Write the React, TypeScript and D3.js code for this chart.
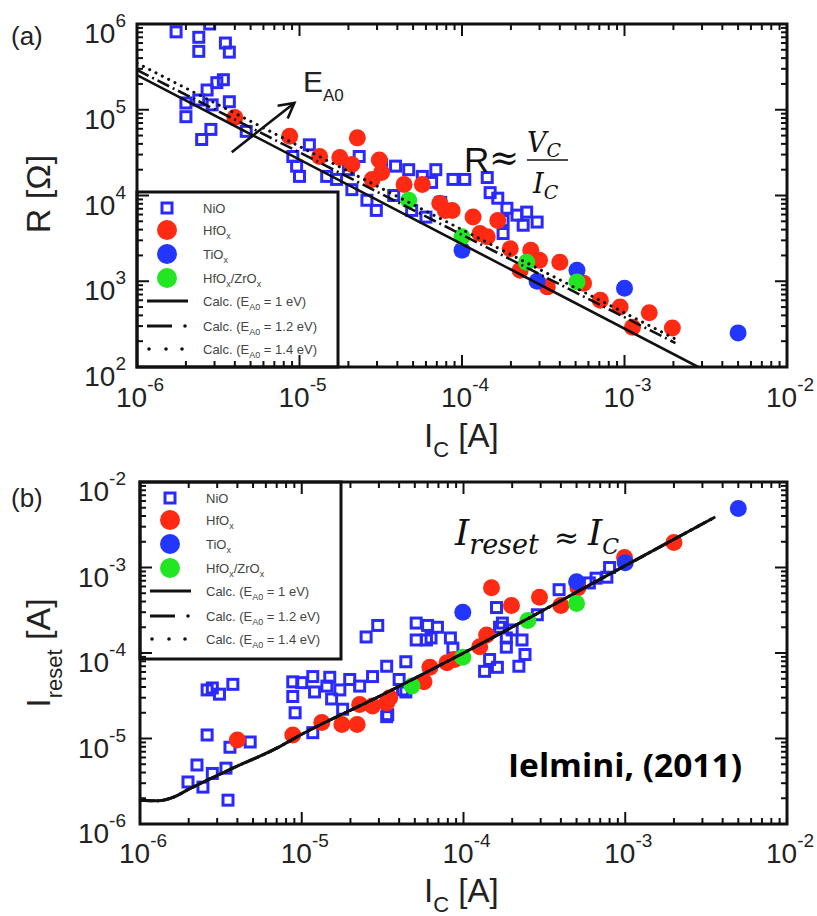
import React from "react";
import * as d3 from "d3";

type P = [number, number];

// ---------- Panel (a): R [Ohm] vs I_C [A] ----------
const nioA: P[] = [
  [1.74e-6, 8.1e5], [2.4e-6, 7.0e5], [2.4e-6, 4.8e5], [2.8e-6, 1.0e6], [3.5e-6, 6.0e5], [3.7e-6, 4.7e5],
  [2.0e-6, 8.3e4], [2.5e-6, 4.5e4], [2.85e-6, 5.9e4], [2.7e-6, 1.7e5], [3.1e-6, 2.07e5], [3.4e-6, 2.24e5],
  [2.4e-6, 1.3e5], [3.7e-6, 1.24e5], [4.7e-6, 5.6e4], [2.9e-6, 1.14e5], [2.0e-6, 1.2e5],
  [9.1e-6, 2.85e4], [9.6e-6, 2.2e4], [1.0e-5, 1.67e4], [1.15e-5, 3.9e4], [1.47e-5, 1.67e4], [1.69e-5, 1.54e4],
  [2.1e-5, 1.17e4], [2.6e-5, 8.8e3], [2.97e-5, 6.7e3], [2.33e-5, 2.85e4], [3.9e-5, 2.2e4], [4.7e-5, 2.0e4],
  [5.7e-5, 1.67e4], [6.9e-5, 2.0e4], [8.8e-5, 1.54e4], [4.9e-5, 6.7e3], [6.0e-5, 5.6e3], [6.5e-5, 1.42e4],
  [3.2e-5, 2.3e4], [2.0e-5, 2.0e4], [3.8e-5, 1.0e4], [7.4e-5, 8.3e3],
  [1.04e-4, 1.54e4], [1.43e-4, 1.62e4], [1.49e-4, 1.08e4], [1.66e-4, 9.3e3], [1.89e-4, 7.1e3], [2.18e-4, 5.9e3],
  [2.5e-4, 6.4e3], [2.9e-4, 4.9e3], [2.38e-4, 4.5e3], [1.79e-4, 5.1e3], [1.79e-4, 3.6e3],
];
const hfoA: P[] = [
  [4.0e-6, 8.1e4], [8.7e-6, 4.9e4], [1.33e-5, 2.85e4], [1.77e-5, 2.77e4], [2.1e-5, 2.3e4], [2.27e-5, 4.7e4],
  [3.1e-5, 2.6e4], [3.2e-5, 1.85e4], [2.8e-5, 1.54e4], [4.4e-5, 1.34e4], [5.7e-5, 1.34e4], [7.3e-5, 8.1e3],
  [8.7e-5, 6.7e3], [7.9e-5, 6.7e3], [1.17e-4, 5.6e3], [1.29e-4, 3.6e3], [1.43e-4, 3.3e3], [1.66e-4, 5.1e3],
  [1.98e-4, 2.4e3], [2.28e-4, 1.34e3], [2.65e-4, 2.3e3], [3.0e-4, 1.76e3], [4.0e-4, 1.67e3], [3.35e-4, 8.6e2],
  [5.6e-4, 9.5e2], [7.1e-4, 6.0e2], [9.4e-4, 5.0e2], [1.42e-3, 4.3e2], [1.12e-3, 2.9e2], [1.97e-3, 2.85e2],
];
const tioA: P[] = [[1.0e-4, 2.3e3], [5.1e-4, 1.34e3], [1.0e-3, 8.3e2], [5.0e-3, 2.5e2], [2.9e-4, 1.0e3]];
const hfzrA: P[] = [[4.7e-5, 8.8e3], [1.0e-4, 3.3e3], [2.5e-4, 1.67e3], [5.1e-4, 9.8e2]];
const calcA10: P[] = [[1e-6, 2.54e5], [2.84e-3, 100]];
const calcA12: P[] = [[1e-6, 2.91e5], [2.06e-3, 190]];
const calcA14: P[] = [[1e-6, 3.5e5], [2.06e-3, 212]];
const arrowA: P[] = [[3.83e-6, 3.2e4], [9.3e-6, 1.2e5]];

// ---------- Panel (b): I_reset [A] vs I_C [A] ----------
const nioB: P[] = [
  [2.6e-6, 1.1e-5], [3.6e-6, 7.9e-6], [4.8e-6, 9.1e-6], [2.25e-6, 4.9e-6], [1.98e-6, 3.1e-6], [2.8e-6, 3.9e-6],
  [3.4e-6, 4.5e-6], [2.45e-6, 2.7e-6], [3.5e-6, 1.9e-6], [2.8e-6, 3.9e-5], [3.1e-6, 3.3e-5], [3.75e-6, 4.3e-5],
  [2.6e-6, 3.7e-5],
  [8.8e-6, 4.6e-5], [8.8e-6, 3.1e-5], [9.1e-6, 2.0e-5], [1.0e-5, 4.5e-5], [1.17e-5, 5.3e-5], [1.2e-5, 3.5e-5],
  [1.43e-5, 4.1e-5], [1.49e-5, 5.2e-5], [1.53e-5, 2.9e-5], [1.72e-5, 3.7e-5], [1.79e-5, 2.2e-5], [1.98e-5, 4.9e-5],
  [2.28e-5, 4.1e-5], [2.74e-5, 5.3e-5], [3.35e-5, 7.0e-5], [3.4e-5, 1.9e-5], [4.2e-5, 3.7e-5], [4.4e-5, 7.9e-5],
  [5.1e-5, 2.24e-4], [5.1e-5, 1.42e-4], [6.0e-5, 2.1e-4], [5.9e-5, 1.42e-4], [2.5e-5, 1.54e-4], [2.95e-5, 2.1e-4],
  [1.17e-5, 1.17e-5],
  [6.9e-5, 2.0e-4], [6.3e-5, 1.5e-4], [8.3e-5, 1.5e-4], [8.6e-5, 1.14e-4], [1.6e-4, 3.4e-4], [1.67e-4, 2.0e-4],
  [1.84e-4, 1.5e-4], [2.0e-4, 1.86e-4], [2.3e-4, 1.42e-4], [1.84e-4, 1.17e-4], [2.4e-4, 9.6e-5], [2.2e-4, 7.0e-5],
  [1.62e-4, 6.8e-5], [1.35e-4, 6.1e-5], [1.45e-4, 8.4e-5], [4.0e-5, 4.9e-5], [4.4e-5, 3.5e-5], [3.35e-5, 1.8e-5],
  [3.9e-4, 5.5e-4], [2.86e-4, 2.8e-4], [6.0e-4, 6.6e-4], [8.0e-4, 1.0e-3], [7.7e-4, 7.7e-4], [6.6e-4, 7.5e-4],
  [1.74e-4, 2.24e-4],
];
const hfoB: P[] = [
  [4.0e-6, 9.6e-6], [8.8e-6, 1.1e-5], [1.33e-5, 1.54e-5], [1.77e-5, 1.46e-5], [2.2e-5, 1.46e-5], [2.28e-5, 2.5e-5],
  [2.74e-5, 2.4e-5], [3.35e-5, 2.6e-5], [3.5e-5, 3.0e-5], [5.7e-5, 4.6e-5], [6.2e-5, 6.8e-5], [7.9e-5, 7.7e-5],
  [8.8e-5, 8.4e-5], [1.26e-4, 1.18e-4], [1.39e-4, 1.62e-4], [1.49e-4, 5.8e-4], [1.98e-4, 3.6e-4], [2.95e-4, 4.5e-4],
  [4.0e-4, 3.6e-4], [5.1e-4, 5.8e-4], [9.9e-4, 1.31e-3], [2.0e-3, 1.96e-3],
];
const tioB: P[] = [[9.9e-5, 3.0e-4], [5.0e-4, 6.8e-4], [1.0e-3, 1.14e-3], [5.0e-3, 4.9e-3]];
const hfzrB: P[] = [[4.8e-5, 4.1e-5], [9.9e-5, 8.9e-5], [2.5e-4, 2.4e-4], [5.0e-4, 3.8e-4]];
const calcB: P[] = [
  [1e-6, 1.9e-6], [1.3e-6, 1.87e-6], [1.6e-6, 2.05e-6], [2.04e-6, 2.6e-6], [3.75e-6, 4.5e-6], [7e-6, 7.7e-6],
  [1e-5, 1.12e-5], [3e-5, 3.1e-5], [1e-4, 1.0e-4], [1e-3, 1.05e-3], [3.6e-3, 3.9e-3],
];

// ---------- tick labels (exponents of 10) ----------
const xTickExps = [-6, -5, -4, -3, -2];
const yTickExpsA = [2, 3, 4, 5, 6];
const yTickExpsB = [-6, -5, -4, -3, -2];

const BLUE_SQ = "#2a2aff";
const RED = "#ff2a14";
const BLUE = "#2236ff";
const GREEN = "#22e622";
const SANS = "'Liberation Sans', Arial, Helvetica, sans-serif";
const MATH = "'DejaVu Serif', serif";
const TXT = "#222";

type Scale = d3.ScaleLogarithmic<number, number>;

function Frame({ x, y }: { x: Scale; y: Scale }) {
  const [x0, x1] = x.range();
  const [yb, yt] = y.range();
  const isMajor = (t: number) => Math.abs(Math.log10(t) - Math.round(Math.log10(t))) < 1e-6;
  const xt = x.ticks();
  const ytk = y.ticks();
  const MJ = 12, MN = 6;
  return (
    <g stroke="#111" strokeWidth={2}>
      {xt.map((t, i) => {
        const px = x(t);
        const L = isMajor(t) ? MJ : MN;
        return (
          <g key={"x" + i}>
            <line x1={px} x2={px} y1={yb} y2={yb - L} />
            <line x1={px} x2={px} y1={yt} y2={yt + L} />
          </g>
        );
      })}
      {ytk.map((t, i) => {
        const py = y(t);
        const L = isMajor(t) ? MJ : MN;
        return (
          <g key={"y" + i}>
            <line x1={x0} x2={x0 + L} y1={py} y2={py} />
            <line x1={x1} x2={x1 - L} y1={py} y2={py} />
          </g>
        );
      })}
      <rect x={x0} y={yt} width={x1 - x0} height={yb - yt} fill="none" strokeWidth={3} />
    </g>
  );
}

function Pow({ x, y, e, anchor }: { x: number; y: number; e: number; anchor: "middle" | "end" }) {
  return (
    <text x={x} y={y} textAnchor={anchor} fontFamily={SANS} fontSize={28} fill={TXT}>
      <tspan>10</tspan>
      <tspan dy={-16} fontSize={19}>{String(e)}</tspan>
    </text>
  );
}

function Points({ x, y, nio, hfo, tio, hfzr }: { x: Scale; y: Scale; nio: P[]; hfo: P[]; tio: P[]; hfzr: P[] }) {
  const S = 10;
  return (
    <g>
      {nio.map((d, i) => (
        <rect key={"n" + i} x={x(d[0]) - S / 2} y={y(d[1]) - S / 2} width={S} height={S}
          fill="none" stroke={BLUE_SQ} strokeWidth={3} />
      ))}
      {hfo.map((d, i) => <circle key={"h" + i} cx={x(d[0])} cy={y(d[1])} r={8.5} fill={RED} />)}
      {tio.map((d, i) => <circle key={"t" + i} cx={x(d[0])} cy={y(d[1])} r={8.5} fill={BLUE} />)}
      {hfzr.map((d, i) => <circle key={"g" + i} cx={x(d[0])} cy={y(d[1])} r={8.5} fill={GREEN} />)}
    </g>
  );
}

function Legend({ x0, y0, w, h }: { x0: number; y0: number; w: number; h: number }) {
  const rows = [16, 38, 62, 86, 109, 134, 157];
  const mx = x0 + 30;
  const tx = x0 + 66;
  const fs = 13;
  const col = "#444";
  const sub = (s: string) => <tspan dy={4} fontSize={9}>{s}</tspan>;
  return (
    <g>
      <rect x={x0} y={y0} width={w} height={h} fill="#fff" stroke="#111" strokeWidth={3} />
      <rect x={mx - 5} y={y0 + rows[0] - 5} width={10} height={10} fill="none" stroke={BLUE_SQ} strokeWidth={3} />
      <circle cx={mx} cy={y0 + rows[1]} r={10} fill={RED} />
      <circle cx={mx} cy={y0 + rows[2]} r={10} fill={BLUE} />
      <circle cx={mx} cy={y0 + rows[3]} r={10} fill={GREEN} />
      <line x1={mx - 20} x2={mx + 21} y1={y0 + rows[4]} y2={y0 + rows[4]} stroke="#111" strokeWidth={3} />
      <line x1={mx - 20} x2={mx + 5} y1={y0 + rows[5]} y2={y0 + rows[5]} stroke="#111" strokeWidth={3} />
      <circle cx={mx + 18} cy={y0 + rows[5]} r={1.8} fill="#111" />
      {[-18, -1, 15].map((dx) => (
        <circle key={dx} cx={mx + dx} cy={y0 + rows[6]} r={1.8} fill="#111" />
      ))}
      <g fontFamily={SANS} fontSize={fs} fill={col}>
        <text x={tx} y={y0 + rows[0] + 5}>NiO</text>
        <text x={tx} y={y0 + rows[1] + 5}>HfO{sub("x")}</text>
        <text x={tx} y={y0 + rows[2] + 5}>TiO{sub("x")}</text>
        <text x={tx} y={y0 + rows[3] + 5}>HfO{sub("x")}<tspan dy={-4}>/ZrO</tspan>{sub("x")}</text>
        <text x={tx} y={y0 + rows[4] + 5}>Calc. (E{sub("A0")}<tspan dy={-4}> = 1 eV)</tspan></text>
        <text x={tx} y={y0 + rows[5] + 5}>Calc. (E{sub("A0")}<tspan dy={-4}> = 1.2 eV)</tspan></text>
        <text x={tx} y={y0 + rows[6] + 5}>Calc. (E{sub("A0")}<tspan dy={-4}> = 1.4 eV)</tspan></text>
      </g>
    </g>
  );
}

export default function App() {
  const xA = d3.scaleLog().domain([1e-6, 1e-2]).range([137, 787]);
  const yA = d3.scaleLog().domain([1e2, 1e6]).range([367, 24]);
  const xB = d3.scaleLog().domain([1e-6, 1e-2]).range([140, 787]);
  const yB = d3.scaleLog().domain([1e-6, 1e-2]).range([824, 482]);

  const lineA = d3.line<P>().x((d) => xA(d[0])).y((d) => yA(d[1]));
  const lineB = d3.line<P>().x((d) => xB(d[0])).y((d) => yB(d[1])).curve(d3.curveMonotoneX);

  const [a0, a1] = arrowA.map((d) => [xA(d[0]), yA(d[1])]);
  const ang = Math.atan2(a1[1] - a0[1], a1[0] - a0[0]);
  const hl = 17;
  const head = [ang + Math.PI - 0.5, ang + Math.PI + 0.5].map((t) => [a1[0] + hl * Math.cos(t), a1[1] + hl * Math.sin(t)]);

  return (
    <svg width={817} height={916} style={{ position: "absolute", left: 0, top: 0, background: "#fff" }}>
      <defs>
        <clipPath id="clipA"><rect x={137} y={24} width={650} height={343} /></clipPath>
        <clipPath id="clipB"><rect x={140} y={482} width={647} height={342} /></clipPath>
      </defs>
      <rect x={0} y={0} width={817} height={916} fill="#fff" />

      {/* ---------------- Panel (a) ---------------- */}
      <text x={11} y={45} fontFamily={SANS} fontSize={26} fill={TXT}>(a)</text>
      <g clipPath="url(#clipA)">
        <Points x={xA} y={yA} nio={nioA} hfo={hfoA} tio={tioA} hfzr={hfzrA} />
        <path d={lineA(calcA10) || ""} fill="none" stroke="#111" strokeWidth={2.6} />
        <path d={lineA(calcA12) || ""} fill="none" stroke="#111" strokeWidth={2.6} strokeDasharray="13 4 2 4" />
        <path d={lineA(calcA14) || ""} fill="none" stroke="#111" strokeWidth={3} strokeDasharray="0.1 7" strokeLinecap="round" />
      </g>
      <g stroke="#111" strokeWidth={2.6} fill="none">
        <line x1={a0[0]} y1={a0[1]} x2={a1[0]} y2={a1[1]} />
        <polyline points={`${head[0][0]},${head[0][1]} ${a1[0]},${a1[1]} ${head[1][0]},${head[1][1]}`} />
      </g>
      <text x={303} y={92} fontFamily={SANS} fontSize={30} fill={TXT}>E<tspan dy={9} fontSize={17}>A0</tspan></text>
      <text x={464} y={172} fontFamily={SANS} fontSize={35} fill="#111">R</text>
      <text x={489} y={170} fontFamily={MATH} fontSize={36} fill="#111">≈</text>
      <text x={527} y={152} fontFamily={MATH} fontStyle="italic" fontSize={27} fill="#111">V<tspan dy={5} fontSize={19}>C</tspan></text>
      <line x1={527} x2={568} y1={160} y2={160} stroke="#111" strokeWidth={1.6} />
      <text x={533} y={193} fontFamily={MATH} fontStyle="italic" fontSize={27} fill="#111">I<tspan dy={6} fontSize={19}>C</tspan></text>
      <Legend x0={137} y0={192} w={201} h={175} />
      <Frame x={xA} y={yA} />
      {yTickExpsA.map((e) => <Pow key={"ya" + e} x={126} y={yA(Math.pow(10, e)) + 19} e={e} anchor="end" />)}
      {xTickExps.map((e) => <Pow key={"xa" + e} x={xA(Math.pow(10, e)) + 3} y={407} e={e} anchor="middle" />)}
      <text x={424} y={447} fontFamily={SANS} fontSize={33} fill={TXT}>I<tspan dy={10} fontSize={22}>C</tspan><tspan dy={-10}> [A]</tspan></text>
      <text transform="translate(50,194) rotate(-90)" textAnchor="middle" fontFamily={SANS} fontSize={34} fill={TXT}>R [Ω]</text>

      {/* ---------------- Panel (b) ---------------- */}
      <text x={11} y={507} fontFamily={SANS} fontSize={26} fill={TXT}>(b)</text>
      <g clipPath="url(#clipB)">
        <Points x={xB} y={yB} nio={nioB} hfo={hfoB} tio={tioB} hfzr={hfzrB} />
        <path d={lineB(calcB) || ""} fill="none" stroke="#111" strokeWidth={3} />
        <path d={lineB(calcB) || ""} fill="none" stroke="#111" strokeWidth={3} strokeDasharray="13 4 2 4" />
        <path d={lineB(calcB) || ""} fill="none" stroke="#111" strokeWidth={3} strokeDasharray="0.1 7" strokeLinecap="round" />
      </g>
      <text x={455} y={545} fontFamily={MATH} fontStyle="italic" fontSize={36} fill="#111">I<tspan dy={9} fontSize={27}>reset</tspan></text>
      <text x={554} y={548} fontFamily={MATH} fontSize={30} fill="#111">≈</text>
      <text x={588} y={545} fontFamily={MATH} fontStyle="italic" fontSize={36} fill="#111">I<tspan dy={9} fontSize={22}>C</tspan></text>
      <Legend x0={140} y0={482} w={201} h={177} />
      <Frame x={xB} y={yB} />
      {yTickExpsB.map((e) => <Pow key={"yb" + e} x={126} y={yB(Math.pow(10, e)) + 19} e={e} anchor="end" />)}
      {xTickExps.map((e) => <Pow key={"xb" + e} x={xB(Math.pow(10, e)) + 3} y={863} e={e} anchor="middle" />)}
      <text x={424} y={902} fontFamily={SANS} fontSize={33} fill={TXT}>I<tspan dy={10} fontSize={22}>C</tspan><tspan dy={-10}> [A]</tspan></text>
      <text transform="translate(50,653) rotate(-90)" textAnchor="middle" fontFamily={SANS} fontSize={34} fill={TXT}>
        I<tspan dy={12} fontSize={22}>reset</tspan><tspan dy={-12}> [A]</tspan>
      </text>
      <text x={508} y={777} fontFamily="'Open Sans', sans-serif" fontWeight={700} fontSize={33} fill="#000" textLength={234} lengthAdjust="spacingAndGlyphs">Ielmini, (2011)</text>
    </svg>
  );
}
